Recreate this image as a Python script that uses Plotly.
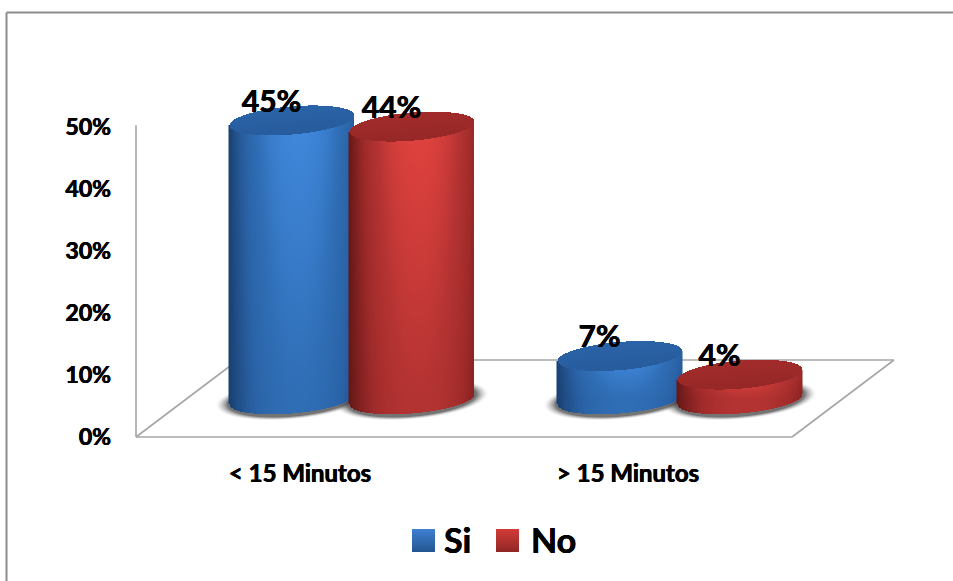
import numpy as np
import plotly.graph_objects as go

# Chart values
CATEGORIES = ["< 15 Minutos", "> 15 Minutos"]
SERIES_NAMES = ["Si", "No"]
SI_VALUES = [45, 7]
NO_VALUES = [44, 4]
Y_TICKS = [0, 10, 20, 30, 40, 50]

# Axis scale: pixels per category and per percentage point
PX_X = 328.0
PX_Y = 6.2
ORIGIN_X, ORIGIN_Y = 136, 437
PAD = 3
LEFT, BOTTOM, RIGHT, TOP = ORIGIN_X - PAD, ORIGIN_Y + PAD, 898, 95
W, H = 953, 581


def dx(px):
    return px / PX_X


def dy(px):
    return px / PX_Y


# Perspective of the floor and cylinder proportions
DEPTH_X, DEPTH_Y = dx(102), dy(77)
GROUP_SHIFT = dx(51.5)
BAR_OFFSET = dx(60)
RADIUS_X = dx(62.5)
RADIUS_Y = dy(14.1)
SHEAR = 0.08 * PX_X / PX_Y
BASE_Y = dy(38)

SCALES = {
    "Si": [[0, "#163a68"], [0.5, "#2a62a6"], [0.72, "#2f6db4"], [1, "#4088dc"]],
    "No": [[0, "#5a1414"], [0.5, "#a02b2a"], [0.72, "#b33332"], [1, "#e0423e"]],
}
KEY_TOP = {"Si": "#3f80d2", "No": "#d23c38"}
KEY_BOTTOM = {"Si": "#23568f", "No": "#8f2725"}
LINE = "#a6a6a6"
FONT = "Lato"
HEAVY = "0.35px 0 0 black, -0.35px 0 0 black"

fig = go.Figure()

# Floor outline and vertical axis stay beneath the cylinders
floor_x = [0, 0, 2, 2 + DEPTH_X, DEPTH_X, 0]
floor_y = [50.3, 0, 0, DEPTH_Y, DEPTH_Y, 0]
for i in range(len(floor_x) - 1):
    fig.add_shape(type="line", xref="x", yref="y", layer="below",
                  x0=floor_x[i], y0=floor_y[i], x1=floor_x[i + 1], y1=floor_y[i + 1],
                  line=dict(color=LINE, width=1.6))


def add_shadow(xc):
    gx = np.arange(xc - RADIUS_X - dx(22), xc + RADIUS_X + dx(22), dx(1))
    gy = np.arange(BASE_Y - RADIUS_Y - dy(12), BASE_Y + RADIUS_Y + dy(12), dy(1))
    X, Y = np.meshgrid(gx, gy)
    rx = RADIUS_X + dx(14)
    ry = RADIUS_Y + dy(6)
    d = np.sqrt(((X - xc) / rx) ** 2 + ((Y - BASE_Y - SHEAR * (X - xc)) / ry) ** 2)
    z = np.clip((1 - d) / 0.16, 0, 1)
    fig.add_trace(go.Heatmap(
        x=gx, y=gy, z=z ** 1.5, zmin=0, zmax=1, showscale=False, hoverinfo="skip",
        colorscale=[[0, "rgba(80,80,80,0)"], [1, "rgba(70,70,70,0.75)"]],
    ))


def add_cylinder(xc, value, name):
    top = BASE_Y + value
    gx = np.arange(xc - RADIUS_X, xc + RADIUS_X + dx(0.5), dx(1))
    gy = np.arange(BASE_Y - RADIUS_Y - dy(7), top + RADIUS_Y + dy(7), dy(1))
    X, Y = np.meshgrid(gx, gy)
    u = (X - xc) / RADIUS_X
    half = RADIUS_Y * np.sqrt(np.clip(1 - u ** 2, 0, 1))
    tilt = SHEAR * (X - xc)

    lower = BASE_Y + tilt - half
    v = np.clip((Y - BASE_Y) / value, 0, 1)
    h = 1 - np.clip(np.abs(u - 0.1) / 1.1, 0, 1) ** 2.3
    z = (0.1 + 0.9 * h) * (0.72 + 0.28 * v)
    body = (Y >= lower) & (Y <= top + tilt) & (np.abs(u) <= 1)
    cap = np.abs(Y - top - tilt) <= half
    z = np.where(cap, 0.47 + 0.05 * (Y - top - tilt) / RADIUS_Y, z)
    z = np.where(body | cap, z, np.nan)

    fig.add_trace(go.Heatmap(
        x=gx, y=gy, z=z, zmin=0, zmax=1, showscale=False, hoverinfo="skip",
        colorscale=SCALES[name], name=name,
    ))


bars = []
for i, _ in enumerate(CATEGORIES):
    centre = i + 0.5 + GROUP_SHIFT
    bars.append((centre - BAR_OFFSET, SI_VALUES[i], "Si"))
    bars.append((centre + BAR_OFFSET, NO_VALUES[i], "No"))

for xc, _, _ in bars:
    add_shadow(xc)
for xc, value, name in bars:
    add_cylinder(xc, value, name)

# Value labels sit on the rear-left of each cap
fig.add_trace(go.Scatter(
    x=[b[0] - dx(20) for b in bars],
    y=[BASE_Y + b[1] + dy(16) for b in bars],
    text=[f"<b>{b[1]}%</b>" for b in bars],
    mode="text", textposition="middle center",
    textfont=dict(family=FONT, size=30, color="black", shadow=HEAVY),
    cliponaxis=False, hoverinfo="skip", showlegend=False,
))

# Series key on a page-wide overlay in pixel units
key_y = 540.5
for name, key_px, text_px in zip(SERIES_NAMES, [423.5, 507.5], [442, 529]):
    fig.add_trace(go.Scatter(
        x=[key_px], y=[key_y], xaxis="x2", yaxis="y2", mode="markers", name=name,
        marker=dict(symbol="square", size=23, color=KEY_TOP[name],
                    gradient=dict(type="vertical", color=KEY_BOTTOM[name]),
                    line=dict(width=0)),
        hoverinfo="skip", showlegend=False,
    ))
    fig.add_annotation(
        x=text_px, y=key_y - 1.5, text=f"<b>{name}</b>", showarrow=False,
        xanchor="left", yanchor="middle", xref="x2", yref="y2",
        font=dict(family=FONT, size=34, color="black", shadow=HEAVY),
    )

# Outer frame: top and left rules only
for x0, y0, x1, y1 in [(6.5, 12.5, W, 12.5), (6.5, 12.5, 6.5, H)]:
    fig.add_shape(type="line", xref="x2", yref="y2", x0=x0, y0=y0, x1=x1, y1=y1,
                  line=dict(color="#8c8c8c", width=2))

fig.update_layout(
    width=W, height=H, autosize=False,
    margin=dict(l=0, r=0, t=0, b=0, autoexpand=False),
    paper_bgcolor="white", plot_bgcolor="rgba(0,0,0,0)", showlegend=False,
    font=dict(family=FONT, color="black"),
    xaxis=dict(
        domain=[LEFT / W, RIGHT / W],
        range=[-dx(PAD), dx(RIGHT - ORIGIN_X)], tickmode="array",
        tickvals=[i + 0.5 for i in range(len(CATEGORIES))],
        ticktext=[f"<b>{c}</b>" for c in CATEGORIES],
        showgrid=False, zeroline=False, showline=False, ticks="", ticklabelstandoff=17,
        tickfont=dict(family=FONT, size=24, color="black", shadow=HEAVY),
    ),
    yaxis=dict(
        domain=[(H - BOTTOM) / H, (H - TOP) / H],
        range=[-dy(PAD), dy(ORIGIN_Y - TOP)], tickmode="array",
        tickvals=Y_TICKS, ticktext=[f"<b>{t}%</b>" for t in Y_TICKS],
        showgrid=False, zeroline=False, showline=False, ticks="", ticklabelstandoff=21,
        tickfont=dict(family=FONT, size=23, color="black", shadow=HEAVY),
    ),
    xaxis2=dict(domain=[0, 1], range=[0, W], visible=False, anchor="y2"),
    yaxis2=dict(domain=[0, 1], range=[H, 0], visible=False, anchor="x2"),
)

fig.write_html("out.html")
